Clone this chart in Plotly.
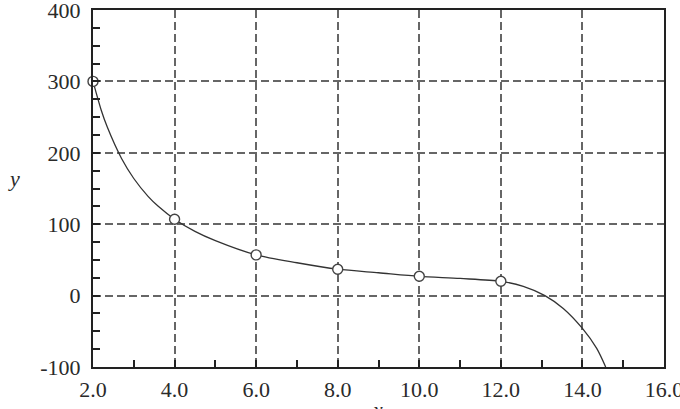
import plotly.graph_objects as go

# Sample points (open circles)
pt_x = [2, 4, 6, 8, 10, 12]
pt_y = [300, 107, 57, 37, 27, 20]

# Fitted curve, values
curve_x = [2, 2.2, 2.35, 2.7, 3.0, 3.35, 3.6, 4, 4.5, 5, 6, 7, 8, 9, 10, 11, 12, 12.55, 13.08, 13.53, 14, 14.35, 14.57]
curve_y = [300, 260, 236, 192, 164, 139, 125, 107, 90, 77, 57, 46, 37, 32, 27, 24, 20, 13, 0, -18, -46, -74, -100]

x_ticks = [2, 4, 6, 8, 10, 12, 14, 16]
x_labels = ["2.0", "4.0", "6.0", "8.0", "10.0", "12.0", "14.0", "16.0"]
y_ticks = [-100, 0, 100, 200, 300, 400]
y_labels = ["-100", "0", "100", "200", "300", "400"]

FONT = "Liberation Serif"
TXT = "#2a2a2a"

fig = go.Figure()
fig.add_trace(go.Scatter(
    x=curve_x, y=curve_y, mode="lines",
    line=dict(color="#333333", width=1.3, shape="spline", smoothing=0.8),
    hoverinfo="skip", showlegend=False))
fig.add_trace(go.Scatter(
    x=pt_x, y=pt_y, mode="markers",
    marker=dict(symbol="circle", size=10, color="white",
                line=dict(color="#444444", width=1.4)),
    cliponaxis=False, showlegend=False))

grid = dict(showgrid=True, gridcolor="#666666", gridwidth=1.5, griddash="8px,4px")

fig.update_xaxes(
    range=[2, 16], tickmode="array", tickvals=x_ticks, ticktext=x_labels,
    ticks="inside", ticklen=7, tickwidth=1.5, tickcolor="#222",
    minor=dict(ticks="inside", ticklen=7, tickwidth=1.5, tickcolor="#222", dtick=1, tick0=1, showgrid=False),
    showline=True, linecolor="#222", linewidth=2, mirror=True, automargin=False,
    zeroline=False, tickfont=dict(family=FONT, size=22, color=TXT),
    ticklabeloverflow="allow", ticklabelstandoff=2, **grid)
fig.update_yaxes(
    range=[-100, 400], tickmode="array", tickvals=y_ticks, ticktext=y_labels,
    ticks="inside", ticklen=7, tickwidth=1.5, tickcolor="#222",
    minor=dict(ticks="inside", ticklen=7, tickwidth=1.5, tickcolor="#222", dtick=25, tick0=0, showgrid=False),
    showline=True, linecolor="#222", linewidth=2, mirror=True, automargin=False,
    zeroline=False, tickfont=dict(family=FONT, size=22, color=TXT),
    ticklabeloverflow="allow", ticklabelstandoff=6, **grid)

fig.add_annotation(text="<i>y</i>", xref="paper", yref="paper", x=-0.152, y=0.528,
                   showarrow=False, font=dict(family=FONT, size=22, color=TXT))
fig.add_annotation(text="<i>x</i>", xref="paper", yref="paper", x=0.499, y=-0.16,
                   showarrow=False, font=dict(family=FONT, size=22, color=TXT))

fig.update_layout(
    width=680, height=409,
    margin=dict(l=93, r=16, t=9.5, b=42.3),
    plot_bgcolor="white", paper_bgcolor="white",
)

fig.write_html("out.html")
